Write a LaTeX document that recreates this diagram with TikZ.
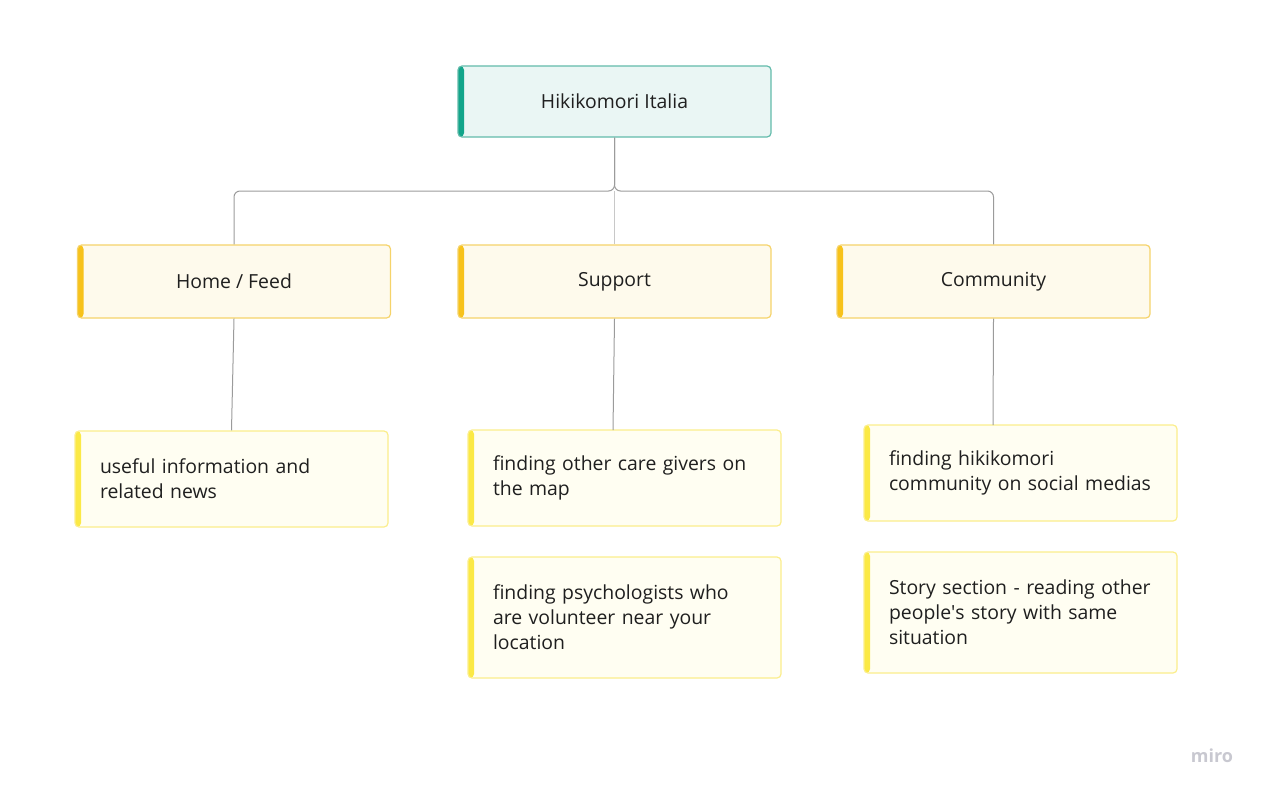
\documentclass[tikz,border=0pt]{standalone}
\usepackage{fontspec}
\setmainfont{Open Sans}

\definecolor{ink}{HTML}{1F1F1F}
\definecolor{rootfill}{HTML}{EAF6F4}
\definecolor{rootline}{HTML}{62BBAB}
\definecolor{rootbar}{HTML}{12A58A}
\definecolor{topicfill}{HTML}{FEFAEC}
\definecolor{topicline}{HTML}{F5D36A}
\definecolor{topicbar}{HTML}{F7C21B}
\definecolor{notefill}{HTML}{FFFEF2}
\definecolor{noteline}{HTML}{FBEE8C}
\definecolor{notebar}{HTML}{FBE945}
\definecolor{conn}{HTML}{9B9B9B}
\definecolor{connlight}{HTML}{C8C8C8}
\definecolor{logo}{HTML}{C8C8D0}

\tikzset{
  card/.style={rounded corners=2pt, line width=0.6pt, minimum width=156.5pt,
    inner sep=0pt, text=ink, font=\fontsize{9.7}{12.5}\selectfont},
  accent/.style={path picture={\fill[#1] (path picture bounding box.north west)
    rectangle ([xshift=3pt]path picture bounding box.south west);}},
  rootbox/.style={card, draw=rootline, fill=rootfill, accent=rootbar, minimum height=35.5pt},
  topicbox/.style={card, draw=topicline, fill=topicfill, accent=topicbar, minimum height=36.5pt},
  notebox/.style={card, draw=noteline, fill=notefill, accent=notebar,
    text width=131.5pt, inner xsep=12.5pt, align=left},
  link/.style={draw=conn, line width=0.5pt, rounded corners=3pt}
}

\begin{document}
\begin{tikzpicture}[x=0.5pt, y=-0.5pt]

\useasboundingbox (0,0) rectangle (1262,792);

% Define coordinates
\coordinate (fork) at (614.5,191); % where the tree splits
\coordinate (careend) at (613,430);
\coordinate (hikiend) at (993,425);

% Draw boxes
\node[rootbox] (root) at (614.5,101.5) {Hikikomori Italia};

\node[topicbox] (home) at (234,281.5) {Home / Feed};
\node[topicbox] (supp) at (614.5,281.5) {Support};
\node[topicbox] (comm) at (993.5,281.5) {Community};

\node[notebox, minimum height=48pt] (useful) at (231.5,479)
  {useful information and\\related news};
\node[notebox, minimum height=48pt] (care) at (624.5,478)
  {finding other care givers on\\the map};
\node[notebox, minimum height=60.5pt] (psych) at (624.5,617.5)
  {finding psychologists who\\are volunteer near your\\location};
\node[notebox, minimum height=48pt] (hiki) at (1020.5,473)
  {finding hikikomori\\community on social medias};
\node[notebox, minimum height=60.5pt] (story) at (1020.5,612.5)
  {Story section - reading other\\people\textquotesingle s story with same\\situation};

% Draw tree lines
\draw[link] (root.south) -- (fork) -| (home.north);
\draw[link] (root.south) -- (fork) -| (comm.north);
\draw[link, draw=connlight] (fork) -- (supp.north);

\draw[link] (home.south) -- (useful.north);
\draw[link] (supp.south) -- (careend);
\draw[link] (comm.south) -- (hikiend);

% Logo
\node[text=logo, font=\fontsize{9}{9}\selectfont\bfseries] (brand) at (1212,756) {miro};

\end{tikzpicture}
\end{document}
